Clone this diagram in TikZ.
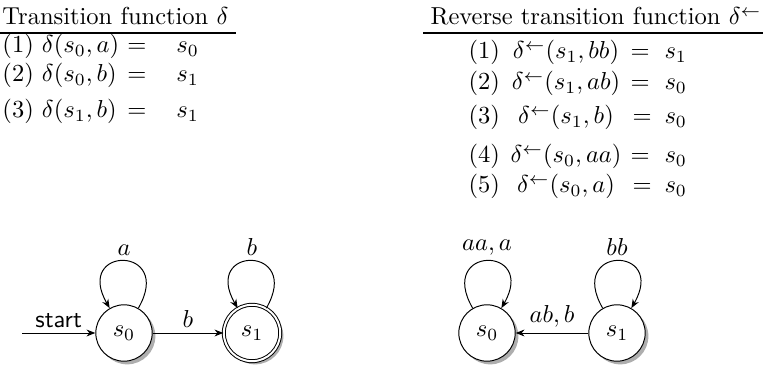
\documentclass[tikz,border=0pt]{standalone}
\usetikzlibrary{arrows.meta,shadows}
\begin{document}
\begin{tikzpicture}[x=0.408pt,y=0.408pt,
  txt/.style={inner sep=0pt, anchor=base west},
  ctxt/.style={inner sep=0pt, anchor=base},
  rulel/.style={line width=0.8pt},
  stnode/.style={circle, draw, minimum size=23pt, inner sep=0pt, fill=white,
     drop shadow={shadow xshift=1.3pt, shadow yshift=-1.3pt, fill=black!70, opacity=.45}},
  acc/.style={double, double distance=0.8pt},
  conn/.style={-{Stealth[length=3.6pt,width=2.8pt]}, line width=0.4pt},
  lab/.style={above, inner sep=2pt}]
\useasboundingbox (0,0) rectangle (763,368);
% ---- left table
\node[txt] (lh) at (2,343) {Transition function $\delta$};
\coordinate (lr1) at (0,335);
\coordinate (lr2) at (236,335);
\draw[rulel] (lr1) -- (lr2);
\node[txt] (l1a) at (2,315) {(1) $\delta(s_0,a)$};
\node[txt] (l1b) at (127,315) {$=$};
\node[txt] (l1c) at (176,315) {$s_0$};
\node[txt] (l2a) at (2,286) {(2) $\delta(s_0,b)$};
\node[txt] (l2b) at (127,286) {$=$};
\node[txt] (l2c) at (176,286) {$s_1$};
\node[txt] (l3a) at (2,250) {(3) $\delta(s_1,b)$};
\node[txt] (l3b) at (127,250) {$=$};
\node[txt] (l3c) at (176,250) {$s_1$};
% ---- right table
\node[txt] (rh) at (430,343) {Reverse transition function $\delta^{\leftarrow}$};
\coordinate (rr1) at (423,335);
\coordinate (rr2) at (763,335);
\draw[rulel] (rr1) -- (rr2);
\node[txt] (r1a) at (468,309) {(1)};
\node[ctxt] (r1b) at (566,309) {$\delta^{\leftarrow}(s_1,bb)$};
\node[txt] (r1c) at (630,309) {$=$};
\node[txt] (r1d) at (664,309) {$s_1$};
\node[txt] (r2a) at (468,278) {(2)};
\node[ctxt] (r2b) at (566,278) {$\delta^{\leftarrow}(s_1,ab)$};
\node[txt] (r2c) at (630,278) {$=$};
\node[txt] (r2d) at (664,278) {$s_0$};
\node[txt] (r3a) at (468,244) {(3)};
\node[ctxt] (r3b) at (566,244) {$\delta^{\leftarrow}(s_1,b)$};
\node[txt] (r3c) at (632,244) {$=$};
\node[txt] (r3d) at (664,244) {$s_0$};
\node[txt] (r4a) at (468,205) {(4)};
\node[ctxt] (r4b) at (566,205) {$\delta^{\leftarrow}(s_0,aa)$};
\node[txt] (r4c) at (630,205) {$=$};
\node[txt] (r4d) at (664,205) {$s_0$};
\node[txt] (r5a) at (468,175) {(5)};
\node[ctxt] (r5b) at (566,175) {$\delta^{\leftarrow}(s_0,a)$};
\node[txt] (r5c) at (632,175) {$=$};
\node[txt] (r5d) at (664,175) {$s_0$};
% ---- left automaton
\node[stnode] (ls0) at (124,35) {$s_0$};
\node[stnode, acc] (ls1) at (252,35) {$s_1$};
\coordinate (start) at (22,35);
\draw[conn] (start) -- node[lab] {\sffamily start} (ls0);
\draw[conn] (ls0) -- node[lab] {$b$} (ls1);
\draw[conn] (ls0) to[out=60,in=120,looseness=6.5] node[lab] {$a$} (ls0);
\draw[conn] (ls1) to[out=60,in=120,looseness=6.5] node[lab] {$b$} (ls1);
% ---- right automaton
\node[stnode] (rs0) at (487,35) {$s_0$};
\node[stnode] (rs1) at (617,35) {$s_1$};
\draw[conn] (rs1) -- node[lab] {$ab,b$} (rs0);
\draw[conn] (rs0) to[out=120,in=60,looseness=6.5] node[lab] {$aa,a$} (rs0);
\draw[conn] (rs1) to[out=120,in=60,looseness=6.5] node[lab] {$bb$} (rs1);
\end{tikzpicture}
\end{document}
